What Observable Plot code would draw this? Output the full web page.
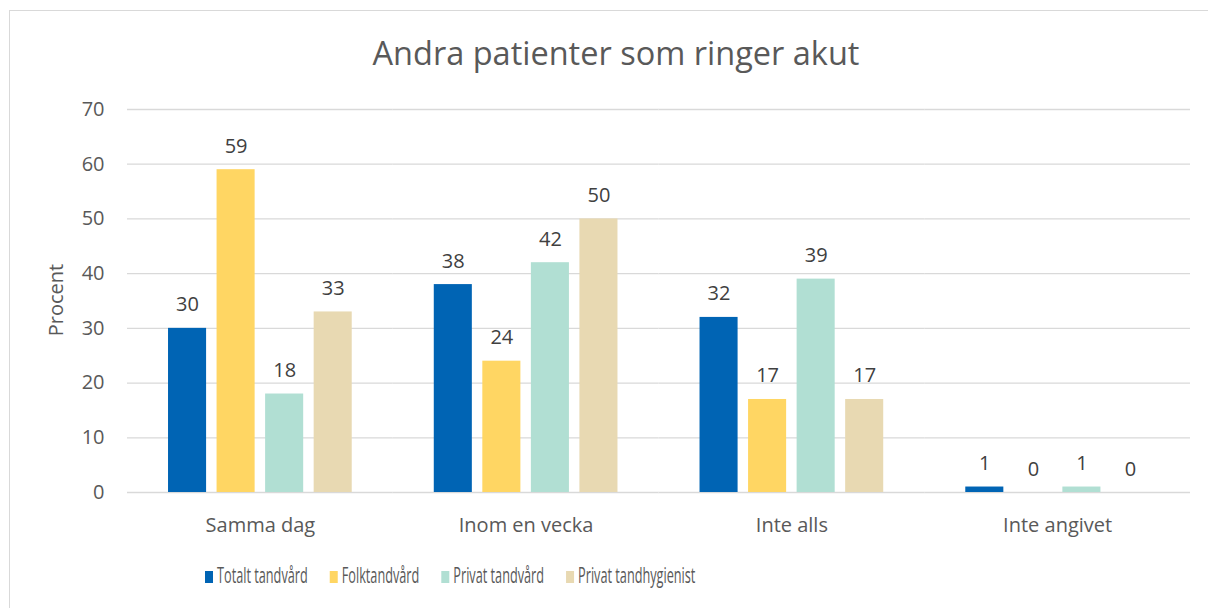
<!DOCTYPE html>
<html>
<head>
<meta charset="utf-8">
<script src="https://cdn.jsdelivr.net/npm/d3@7"></script>
<script src="https://cdn.jsdelivr.net/npm/@observablehq/plot@0.6"></script>
<style>
  html, body { margin: 0; padding: 0; background: #fff; }
  #wrap { position: relative; width: 1208px; height: 608px; overflow: hidden; }
  #border { position: absolute; left: 9px; top: 10px; width: 1300px; height: 700px; border: 1px solid #d9d9d9; box-sizing: border-box; }
  #chart { position: absolute; left: 0; top: 0; }
</style>
</head>
<body>
<div id="wrap"><div id="border"></div><div id="chart"></div></div>
<script>
const title = "Andra patienter som ringer akut";
const yLabel = "Procent";
const categories = ["Samma dag", "Inom en vecka", "Inte alls", "Inte angivet"];
const series = ["Totalt tandvård", "Folktandvård", "Privat tandvård", "Privat tandhygienist"];
const totalt = [30, 38, 32, 1];
const folktandvard = [59, 24, 17, 0];
const privatTandvard = [18, 42, 39, 1];
const privatHygienist = [33, 50, 17, 0];
const colors = ["#0064b4", "#ffd663", "#b1dfd3", "#e8d9b2"];
const yTicks = [0, 10, 20, 30, 40, 50, 60, 70];

const values = [totalt, folktandvard, privatTandvard, privatHygienist];
const data = categories.flatMap((c, i) => series.map((s, j) => ({group: c, series: s, value: values[j][i]})));

const font = "'Open Sans', sans-serif";

const plot = Plot.plot({
  width: 1208,
  height: 608,
  marginLeft: 127,
  marginRight: 18,
  marginTop: 109,
  marginBottom: 116,
  style: {fontFamily: font, fontSize: "20px", color: "#595959", background: "transparent", overflow: "visible"},
  fx: {domain: categories, padding: 0, round: false, label: null, axis: "bottom", tickSize: 0, tickPadding: 25},
  x: {domain: series, axis: null, round: false, paddingInner: 0.216, paddingOuter: 0.845},
  y: {domain: [0, 70], ticks: yTicks, tickSize: 0, tickPadding: 23, label: null},
  color: {domain: series, range: colors},
  marks: [
    Plot.ruleY(yTicks, {stroke: "#d9d9d9", strokeWidth: 1.3}),
    Plot.barY(data, {fx: "group", x: "series", y: "value", fill: "series"}),
    Plot.text(data, {fx: "group", x: "series", y: "value", text: d => String(d.value), lineAnchor: "bottom", dy: -17, fill: "#404040", fontSize: 20})
  ]
});
document.getElementById("chart").appendChild(plot);

const svg = d3.select(plot);
svg.append("text")
  .attr("x", 616).attr("y", 65)
  .attr("text-anchor", "middle")
  .attr("fill", "#595959")
  .style("font-family", font).style("font-size", "32.5px")
  .text(title);

svg.append("text")
  .attr("transform", "translate(63,300) rotate(-90)")
  .attr("text-anchor", "middle")
  .attr("fill", "#595959")
  .style("font-family", font).style("font-size", "20px")
  .text(yLabel);

const colorScale = plot.scale("color");
const legend = svg.append("g").attr("text-anchor", "start");
let lx = 205;
const squeeze = 0.605;
series.forEach((s, i) => {
  legend.append("rect")
    .attr("x", lx).attr("y", 571).attr("width", 8).attr("height", 12)
    .attr("fill", colorScale.range[i]);
  const t = legend.append("text")
    .attr("transform", `translate(${lx + 12},583) scale(${squeeze},1)`)
    .attr("text-anchor", "start")
    .attr("fill", "#595959")
    .style("font-family", font).style("font-size", "21px")
    .text(s);
  const w = t.node().getComputedTextLength() * squeeze;
  lx += 12 + w + 22;
});
</script>
</body>
</html>
